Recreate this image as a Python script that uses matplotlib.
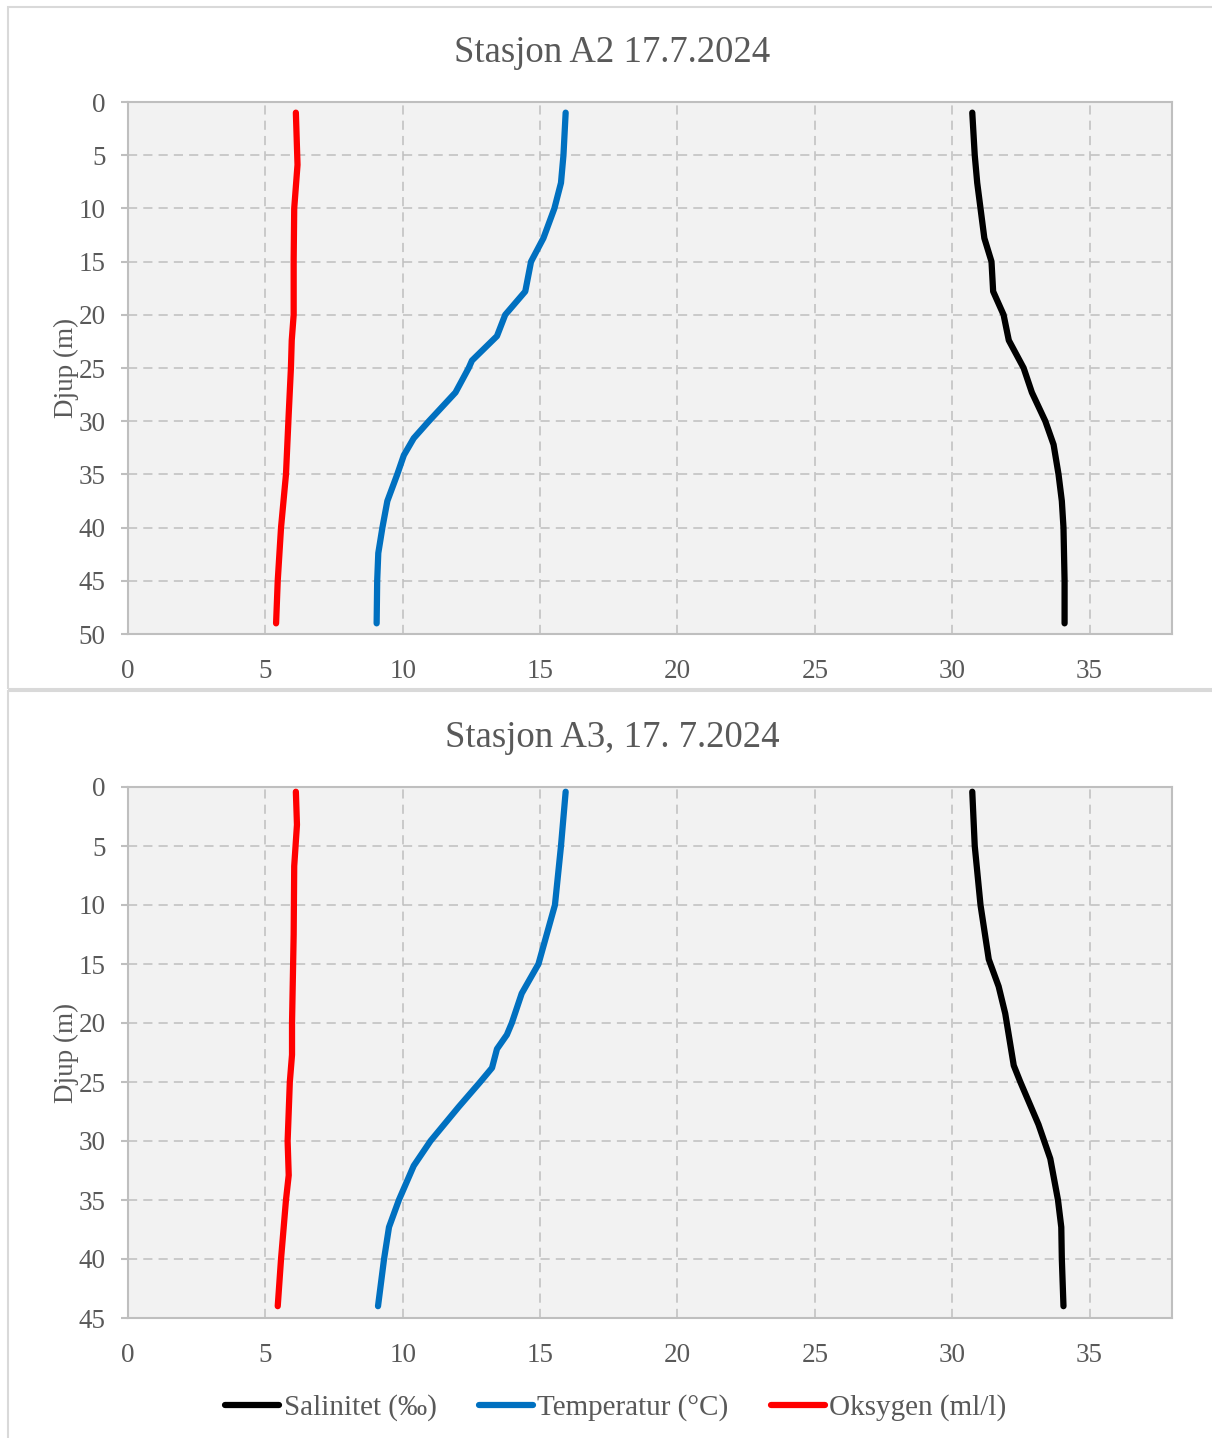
import matplotlib
matplotlib.use("Agg")
import matplotlib.pyplot as plt
from matplotlib.patches import Rectangle
from matplotlib.lines import Line2D

plt.rcParams['font.family'] = ['Liberation Serif', 'DejaVu Serif']

# Stasjon A2
a2_depth_sal = [1, 5, 7.6, 10, 12.8, 15, 17.8, 20, 22.4, 25, 27.3, 30, 32.2, 35, 37.5, 40, 45, 49]
a2_sal = [30.73, 30.82, 30.91, 31.03, 31.17, 31.43, 31.49, 31.87, 32.06, 32.60, 32.90, 33.39,
          33.69, 33.87, 33.99, 34.05, 34.09, 34.09]
a2_depth_temp = [1, 5, 7.6, 10, 12.8, 15, 17.8, 20, 22, 24.3, 25, 27.3, 30, 31.6, 33.2, 35,
                 37.5, 40, 42.4, 45, 49]
a2_temp = [15.93, 15.85, 15.76, 15.52, 15.12, 14.67, 14.46, 13.73, 13.43, 12.52, 12.40, 11.92,
           10.95, 10.40, 10.04, 9.80, 9.44, 9.26, 9.11, 9.07, 9.05]
a2_depth_oks = [1, 5.9, 10, 14.8, 20, 22.4, 25, 29.3, 35, 40, 45, 49]
a2_oks = [6.11, 6.17, 6.05, 6.03, 6.03, 5.96, 5.93, 5.85, 5.75, 5.57, 5.45, 5.39]

# Stasjon A3
a3_depth_sal = [0.4, 5, 10, 14.6, 16.9, 19.2, 23.6, 25, 28.6, 31.5, 35, 37.3, 40, 44]
a3_sal = [30.73, 30.82, 31.03, 31.33, 31.69, 31.93, 32.24, 32.48, 33.14, 33.57, 33.85, 33.97,
          33.99, 34.05]
a3_depth_temp = [0.4, 5, 10, 12, 15, 17.5, 20, 21, 22.2, 23.8, 25, 27.1, 30, 32.1, 35, 37.3, 40, 44]
a3_temp = [15.93, 15.76, 15.54, 15.30, 14.94, 14.33, 13.97, 13.79, 13.43, 13.25, 12.82, 12.04,
           11.01, 10.40, 9.86, 9.50, 9.32, 9.10]
a3_depth_oks = [0.4, 3.2, 6.7, 12.5, 20, 22.7, 25, 30, 32.9, 35, 40, 44]
a3_oks = [6.11, 6.15, 6.05, 6.03, 5.97, 5.97, 5.89, 5.81, 5.85, 5.75, 5.57, 5.45]

txt = '#595959'
W, H = 1212, 1438

fig = plt.figure(figsize=(W / 100, H / 100), dpi=100)

# chart-area frames
fig.add_artist(Rectangle((8 / W, 1 - 689 / H), 1.0, (689 - 7) / H, transform=fig.transFigure,
                         fill=False, ec='#d9d9d9', lw=1.5))
fig.add_artist(Rectangle((8 / W, -0.05), 1.0, 0.05 + 1 - 691 / H, transform=fig.transFigure,
                         fill=False, ec='#d9d9d9', lw=1.5))


def panel(rect, title, title_y, ymax, sal, d_sal, temp, d_temp, oks, d_oks):
    ax = fig.add_axes(rect)
    ax.set_facecolor('#f2f2f2')
    kw = dict(lw=4.5, solid_capstyle='round', solid_joinstyle='round')
    ax.plot(sal, d_sal, color='black', label='Salinitet (‰)', **kw)
    ax.plot(temp, d_temp, color='#0070c0', label='Temperatur (°C)', **kw)
    ax.plot(oks, d_oks, color='#ff0000', label='Oksygen (ml/l)', **kw)
    ax.set_xlim(0, 38)
    ax.set_ylim(ymax, 0)
    ax.set_xticks(range(0, 36, 5))
    ax.set_yticks(range(0, ymax + 1, 5))
    ax.grid(True, color='#bfbfbf', ls=(0, (6, 4)), lw=1.1)
    ax.set_axisbelow(True)
    for s in ax.spines.values():
        s.set_color('#bfbfbf')
        s.set_linewidth(1.5)
    ax.tick_params(axis='x', length=0, pad=18, labelsize=19.5, labelcolor=txt)
    ax.tick_params(axis='y', length=5, width=1.5, color='#bfbfbf', pad=11, labelsize=19.5,
                   labelcolor=txt)
    ax.set_ylabel('Djup (m)', fontsize=19.5, color=txt, labelpad=0)
    fig.text(0.505, title_y, title, ha='center', va='center', fontsize=26.5, color=txt)
    return ax


ax1 = panel([128 / W, 1 - 634 / H, 1044 / W, 532 / H], 'Stasjon A2 17.7.2024', 1 - 53 / H, 50,
            a2_sal, a2_depth_sal, a2_temp, a2_depth_temp, a2_oks, a2_depth_oks)
ax2 = panel([128 / W, 1 - 1318 / H, 1044 / W, 531 / H], 'Stasjon A3, 17. 7.2024', 1 - 738 / H, 45,
            a3_sal, a3_depth_sal, a3_temp, a3_depth_temp, a3_oks, a3_depth_oks)

handles = [Line2D([], [], color=c, lw=4.5, solid_capstyle='round') for c in ['black', '#0070c0', '#ff0000']]
leg = fig.legend(handles, ['Salinitet (‰)', 'Temperatur (°C)', 'Oksygen (ml/l)'], loc='center',
                 bbox_to_anchor=(0.508, 1 - 1408 / H), ncol=3, frameon=False, fontsize=21,
                 handlelength=1.85, handletextpad=0.15, columnspacing=1.45)
for t in leg.get_texts():
    t.set_color(txt)

fig.savefig('out.png', dpi=100)
